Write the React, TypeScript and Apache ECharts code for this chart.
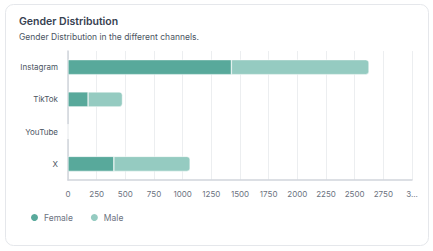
import React, { useEffect, useRef } from "react";
import * as echarts from "echarts";

const categories = ["Instagram", "TikTok", "YouTube", "X"];
const femaleValues = [1425, 175, 0, 400];
const maleValues = [1200, 300, 0, 665];
const seriesNames = ["Female", "Male"];
const xTicks = { min: 0, max: 3000, interval: 250 };

const FONT = "Inter, 'Noto Sans', sans-serif";

export default function App() {
  const ref = useRef<HTMLDivElement>(null);
  useEffect(() => {
    if (!ref.current) return;
    const chart = echarts.init(ref.current, undefined, { renderer: "svg" });
    chart.setOption({
      animation: false,
      textStyle: { fontFamily: FONT },
      graphic: [
        {
          type: "rect",
          z: -10,
          silent: true,
          shape: { x: 5.5, y: 4.5, width: 423, height: 241, r: 8 },
          style: { fill: "#ffffff", stroke: "#e5e7eb", lineWidth: 1 },
        },
      ],
      title: [
        {
          text: "Gender Distribution",
          left: 14,
          top: 11,
          textStyle: { fontFamily: FONT, fontSize: 10.5, fontWeight: 600, color: "#374151" },
        },
        {
          text: "Gender Distribution in the different channels.",
          left: 14,
          top: 27,
          textStyle: { fontFamily: FONT, fontSize: 8.5, fontWeight: 400, color: "#4b5563" },
        },
      ],
      legend: {
        data: seriesNames,
        left: 24,
        top: 207,
        icon: "circle",
        itemWidth: 9,
        itemHeight: 9,
        itemGap: 16,
        textStyle: { fontFamily: FONT, fontSize: 8.5, color: "#6b7280", padding: [0, 0, 0, 0] },
      },
      grid: { left: 68, right: 21, top: 51, bottom: 71, containLabel: false },
      xAxis: {
        type: "value",
        min: xTicks.min,
        max: xTicks.max,
        interval: xTicks.interval,
        axisLine: { show: true, lineStyle: { color: "#d1d5db", width: 1.5 } },
        axisTick: { show: false },
        splitLine: { show: true, lineStyle: { color: "#eceef0", width: 1 } },
        axisLabel: {
          color: "#6b7280",
          fontSize: 8,
          fontFamily: FONT,
          margin: 10,
          formatter: (v: number) => (v === xTicks.max ? String(v).charAt(0) + "..." : String(v)),
        },
      },
      yAxis: {
        type: "category",
        data: categories,
        inverse: true,
        axisLine: { show: true, lineStyle: { color: "#d1d5db", width: 1.5 } },
        axisTick: { show: false },
        axisLabel: { color: "#4b5563", fontSize: 8, fontFamily: FONT, margin: 10 },
      },
      series: [
        {
          name: seriesNames[0],
          type: "bar",
          stack: "total",
          barWidth: 15,
          data: femaleValues,
          itemStyle: { color: "#58a99b", borderColor: "#ffffff", borderWidth: 0.5 },
        },
        {
          name: seriesNames[1],
          type: "bar",
          stack: "total",
          barWidth: 15,
          data: maleValues,
          itemStyle: { color: "#95cbc1", borderColor: "#ffffff", borderWidth: 0.5, borderRadius: [0, 3, 3, 0] },
        },
      ],
    });
    return () => chart.dispose();
  }, []);
  return (
    <div style={{ position: "fixed", left: 0, top: 0, width: 433, height: 251, background: "#fff" }}>
      <div ref={ref} style={{ width: 433, height: 251 }} />
    </div>
  );
}
